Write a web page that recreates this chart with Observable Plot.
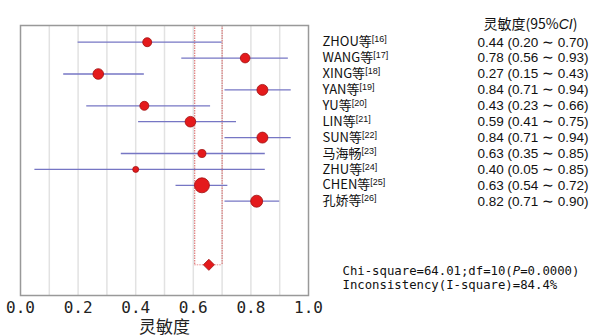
<!DOCTYPE html>
<html><head><meta charset="utf-8">
<script src="https://cdn.jsdelivr.net/npm/d3@7"></script>
<script src="https://cdn.jsdelivr.net/npm/@observablehq/plot@0.6"></script>
<style>
html,body{margin:0;padding:0;background:#fff;}
</style>
</head><body>
<div id="chart"></div>
<script>
const studies = ["ZHOU等","WANG等","XING等","YAN等","YU等","LIN等","SUN等","马海畅","ZHU等","CHEN等","孔娇等"];
const refs = ["[16]","[17]","[18]","[19]","[20]","[21]","[22]","[23]","[24]","[25]","[26]"];
const est = [0.44,0.78,0.27,0.84,0.43,0.59,0.84,0.63,0.40,0.63,0.82];
const lo  = [0.20,0.56,0.15,0.71,0.23,0.41,0.71,0.35,0.05,0.54,0.71];
const hi  = [0.70,0.93,0.43,0.94,0.66,0.75,0.94,0.85,0.85,0.72,0.90];
const weights = [6.8,7.8,9.5,10.1,6.8,9.5,10.1,5.4,3.0,18.9,12.1];
const pooled = {est:0.654, lo:0.605, hi:0.70};
const xTicks = [0,0.2,0.4,0.6,0.8,1.0];
const gridVals = [0.1,0.2,0.3,0.4,0.5,0.6,0.7,0.8,0.9];
const headerText = "灵敏度(95%CI)";
const statsLines = ["Chi-square=64.01;df=10(P=0.0000)","Inconsistency(I-square)=84.4%"];
const xLabel = "灵敏度";

const rows = studies.map((s,i)=>({study:s, ref:refs[i], est:est[i], lo:lo[i], hi:hi[i], w:weights[i], row:i,
  label:`${est[i].toFixed(2)} (${lo[i].toFixed(2)} ∼ ${hi[i].toFixed(2)})`}));
const pooledRow = 14;

const chart = Plot.plot({
  width:596, height:336,
  marginLeft:20, marginRight:288, marginTop:25, marginBottom:41,
  style:{background:"#fff", overflow:"visible"},
  x:{domain:[0,1], ticks:xTicks, tickFormat:d3.format(".1f"), label:null},
  y:{domain:[-1.05,15.93], reverse:true, axis:null},
  r:{type:"sqrt", domain:[0,18.9], range:[0,7.5]},
  marks:[
    Plot.ruleX(gridVals,{stroke:"#e2e2e2", strokeWidth:1.5}),
    Plot.ruleX([pooled.lo, pooled.hi],{y1:-1.05, y2:pooledRow, stroke:"#d86060", strokeWidth:1, strokeDasharray:"1.5,1"}),
    Plot.ruleY([pooledRow],{x1:pooled.lo, x2:pooled.hi, stroke:"#e89090", strokeWidth:1, strokeDasharray:"1.5,1"}),
    Plot.frame({stroke:"#999", strokeWidth:1.5}),
    Plot.ruleY(rows,{y:"row", x1:"lo", x2:"hi", stroke:"#7676c4", strokeWidth:1.3}),
    Plot.dot(rows,{x:"est", y:"row", r:"w", fill:"#e41a1c", stroke:"#a01010", strokeWidth:0.8}),
    Plot.dot([pooled],{x:"est", y:()=>pooledRow, r:5, symbol:"diamond2", fill:"#e41a1c", stroke:"#a01010", strokeWidth:0.8}),
    Plot.axisX({ticks:xTicks, tickFormat:d3.format(".1f"), tickSize:0, tickPadding:6, fontSize:16, fontFamily:"DejaVu Sans Mono", fill:"#222", label:null}),
    Plot.text([xLabel],{frameAnchor:"bottom", dy:37, fontSize:17, fontFamily:"Noto Sans CJK SC", fill:"#222"}),
    Plot.text(rows,{y:"row", text:"study", frameAnchor:"right", dx:14, textAnchor:"start", fontSize:13, fontFamily:"Noto Sans CJK SC", fill:"#111", className:"lbl"}),
    Plot.text(rows,{y:"row", text:"label", frameAnchor:"right", dx:169, textAnchor:"start", fontSize:13.5, fontFamily:"Liberation Sans, Arial", fill:"#111"}),
    Plot.text([headerText],{frameAnchor:"top-right", dx:175, dy:-6, textAnchor:"start", fontSize:14, fontFamily:"Noto Sans CJK SC", fill:"#111", className:"hdr"}),
    Plot.text([statsLines[0]],{frameAnchor:"bottom-right", dx:34, dy:-21, textAnchor:"start", fontSize:12.3, fontFamily:"DejaVu Sans Mono", fill:"#111", className:"st1"}),
    Plot.text([statsLines[1]],{frameAnchor:"bottom-right", dx:34, dy:-7, textAnchor:"start", fontSize:12.3, fontFamily:"DejaVu Sans Mono", fill:"#111"})
  ]
});
document.getElementById("chart").appendChild(chart);

// superscript references
d3.select(chart).selectAll(".lbl text").each(function(_,i){
  const t = d3.select(this);
  const name = this.textContent;
  t.text(null);
  t.append("tspan").text(name);
  t.append("tspan").attr("dy","-4").attr("font-size","9").attr("font-family","Liberation Sans, Arial").text(rows[i].ref);
});
// italic CI in header
d3.select(chart).selectAll(".hdr text").each(function(){
  const t = d3.select(this);
  t.text(null);
  t.append("tspan").text("灵敏度(95%");
  t.append("tspan").attr("font-style","italic").attr("font-family","Liberation Sans, Arial").text("CI");
  t.append("tspan").text(")");
});
// italic P in stats
d3.select(chart).selectAll(".st1 text").each(function(){
  const t = d3.select(this);
  const s = this.textContent;
  const k = s.indexOf("P=");
  t.text(null);
  t.append("tspan").text(s.slice(0,k));
  t.append("tspan").attr("font-style","italic").text("P");
  t.append("tspan").text(s.slice(k+1));
});
</script>
</body></html>
